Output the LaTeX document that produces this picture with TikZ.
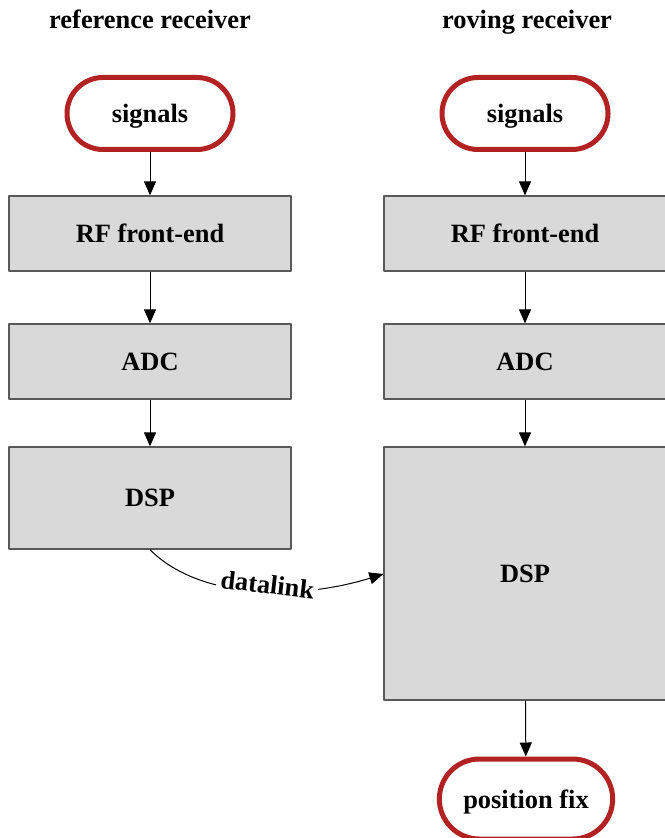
\documentclass[tikz,border=0pt]{standalone}
\usepackage{fontspec}
\setmainfont{Liberation Serif}
\usetikzlibrary{arrows.meta}
\definecolor{ovalred}{HTML}{B22222}
\definecolor{boxgray}{HTML}{D9D9D9}
\definecolor{edgegray}{HTML}{595959}
\tikzset{
  blok/.style={draw=edgegray, fill=boxgray, line width=1pt, minimum width=211.5pt, minimum height=56.25pt, inner sep=0pt},
  oval/.style={draw=ovalred, line width=3.75pt, rounded corners=27pt, minimum width=124.5pt, minimum height=54pt, inner sep=0pt, text depth=0pt, fill=white},
  pijl/.style={-{Triangle[length=10.5pt,width=9pt]}, line width=0.75pt},
}
\begin{document}
\begin{tikzpicture}[x=0.75pt, y=-0.75pt, font=\fontsize{19.8}{24}\selectfont\bfseries, line join=round]
	\useasboundingbox (0,0) rectangle (664,838);
	\node[anchor=base] (tref) at (150,29) {reference receiver};
	\node[anchor=base] (trov) at (527,29) {roving receiver};
	% reference receiver
	\node[oval] (sigA) at (150,113.5) {signals};
	\node[blok] (rfA) at (150,233.5) {RF front-end};
	\node[blok] (adcA) at (150,361.5) {ADC};
	\node[blok, minimum height=76.5pt] (dspA) at (150,498) {DSP};
	% roving receiver
	\node[oval] (sigB) at (525,113.5) {signals};
	\node[blok] (rfB) at (525,233.5) {RF front-end};
	\node[blok] (adcB) at (525,361.5) {ADC};
	\node[blok, minimum height=189.75pt] (dspB) at (525,573.5) {DSP};
	\node[oval, minimum width=130pt, minimum height=60pt, rounded corners=30pt] (fix) at (526,799) {position fix};
	% arrows
	\draw[pijl] (sigA) -- (rfA);
	\draw[pijl] (rfA) -- (adcA);
	\draw[pijl] (adcA) -- (dspA);
	\draw[pijl] (sigB) -- (rfB);
	\draw[pijl] (rfB) -- (adcB);
	\draw[pijl] (adcB) -- (dspB);
	\draw[pijl] (dspB) -- (fix);
	\draw[pijl] (dspA.south) .. controls (200,600) and (300,600) .. (dspB.west |- 0,574)
		node[pos=0.55, sloped, rotate=-5, fill=white, inner sep=3pt, yshift=5pt] (dl) {datalink};
\end{tikzpicture}
\end{document}
